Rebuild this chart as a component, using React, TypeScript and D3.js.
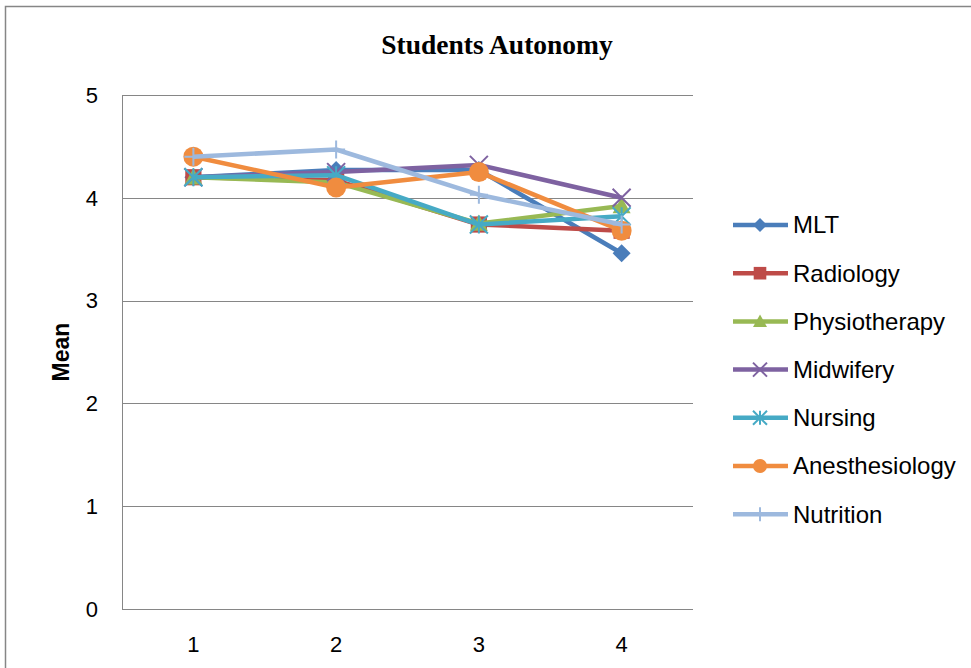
import React, { useEffect, useRef } from 'react';
import * as d3 from 'd3';

const categories = ['1', '2', '3', '4'];
const yTicks = [0, 1, 2, 3, 4, 5];

const seriesNames = ['MLT', 'Radiology', 'Physiotherapy', 'Midwifery', 'Nursing', 'Anesthesiology', 'Nutrition'];
const mltValues = [4.2, 4.27, 4.27, 3.46];
const radiologyValues = [4.2, 4.17, 3.74, 3.68];
const physiotherapyValues = [4.2, 4.15, 3.75, 3.92];
const midwiferyValues = [4.2, 4.25, 4.32, 4.0];
const nursingValues = [4.2, 4.22, 3.74, 3.82];
const anesthesiologyValues = [4.4, 4.1, 4.25, 3.68];
const nutritionValues = [4.4, 4.47, 4.03, 3.74];

const allValues = [mltValues, radiologyValues, physiotherapyValues, midwiferyValues, nursingValues, anesthesiologyValues, nutritionValues];
const colors = ['#4A7DBA', '#BE4B48', '#98B954', '#7E62A1', '#46AAC5', '#F08C3F', '#9DB9DE'];
const markers = ['diamond', 'square', 'triangle', 'x', 'star', 'circle', 'plus'];

const W = 971;
const H = 668;

function drawMarker(g: d3.Selection<SVGGElement, unknown, null, undefined>, kind: string, x: number, y: number, color: string, s: number) {
  if (kind === 'diamond') {
    g.append('path').attr('d', `M${x},${y - s}L${x + s},${y}L${x},${y + s}L${x - s},${y}Z`).attr('fill', color);
  } else if (kind === 'square') {
    g.append('rect').attr('x', x - s * 0.9).attr('y', y - s * 0.9).attr('width', s * 1.8).attr('height', s * 1.8).attr('fill', color);
  } else if (kind === 'triangle') {
    g.append('path').attr('d', `M${x},${y - s}L${x + s},${y + s * 0.8}L${x - s},${y + s * 0.8}Z`).attr('fill', color);
  } else if (kind === 'circle') {
    g.append('circle').attr('cx', x).attr('cy', y).attr('r', s).attr('fill', color);
  } else if (kind === 'x') {
    g.append('path').attr('d', `M${x - s},${y - s}L${x + s},${y + s}M${x - s},${y + s}L${x + s},${y - s}`)
      .attr('stroke', color).attr('stroke-width', 2);
  } else if (kind === 'star') {
    g.append('path').attr('d', `M${x - s},${y - s}L${x + s},${y + s}M${x - s},${y + s}L${x + s},${y - s}M${x},${y - s}L${x},${y + s}`)
      .attr('stroke', color).attr('stroke-width', 2);
  } else if (kind === 'plus') {
    g.append('path').attr('d', `M${x},${y - s}L${x},${y + s}M${x - s},${y}L${x + s},${y}`)
      .attr('stroke', color).attr('stroke-width', 2);
  }
}

export default function App() {
  const ref = useRef<SVGSVGElement>(null);

  useEffect(() => {
    if (!ref.current) return;
    const svg = d3.select(ref.current);
    svg.selectAll('*').remove();

    const plot = { left: 122, right: 693, top: 95, bottom: 609 };

    const x = d3.scalePoint<string>().domain(categories).range([plot.left, plot.right]).padding(0.5);
    const y = d3.scaleLinear().domain([0, 5]).range([plot.bottom, plot.top]);

    // outer frame
    svg.append('rect').attr('x', 5.5).attr('y', 6.5).attr('width', W + 10).attr('height', H + 10)
      .attr('fill', '#fff').attr('stroke', '#868686').attr('stroke-width', 1.5);

    // title
    svg.append('text').attr('x', 497).attr('y', 54).attr('text-anchor', 'middle')
      .style('font-family', '"Liberation Serif", "Times New Roman", serif').style('font-weight', 'bold')
      .style('font-size', '27.5px').text('Students Autonomy');

    // gridlines
    svg.append('g').selectAll('line').data(yTicks.filter(t => t > 0)).enter().append('line')
      .attr('x1', plot.left).attr('x2', plot.right)
      .attr('y1', d => Math.round(y(d)) + 0.5).attr('y2', d => Math.round(y(d)) + 0.5)
      .attr('stroke', '#868686').attr('stroke-width', 1);

    // axes
    svg.append('line').attr('x1', plot.left + 0.5).attr('x2', plot.left + 0.5).attr('y1', plot.top).attr('y2', plot.bottom)
      .attr('stroke', '#868686');
    svg.append('line').attr('x1', plot.left).attr('x2', plot.right).attr('y1', plot.bottom + 0.5).attr('y2', plot.bottom + 0.5)
      .attr('stroke', '#868686');

    const tickFont = '"Liberation Sans", Arial, sans-serif';
    svg.append('g').selectAll('text').data(yTicks).enter().append('text')
      .attr('x', 98).attr('y', d => y(d)).attr('dy', '0.35em').attr('text-anchor', 'end')
      .style('font-family', tickFont).style('font-size', '22px').text(d => String(d));

    svg.append('g').selectAll('text').data(categories).enter().append('text')
      .attr('x', d => x(d) as number).attr('y', 652).attr('text-anchor', 'middle')
      .style('font-family', tickFont).style('font-size', '22px').text(d => d);

    svg.append('text').attr('transform', `translate(69,${(plot.top + plot.bottom) / 2}) rotate(-90)`)
      .attr('text-anchor', 'middle')
      .style('font-family', tickFont).style('font-weight', 'bold').style('font-size', '23px').text('Mean');

    // series
    const line = d3.line<number>().x((_, i) => x(categories[i]) as number).y(d => y(d));
    allValues.forEach((vals, si) => {
      const g = svg.append('g');
      g.append('path').attr('d', line(vals)).attr('fill', 'none').attr('stroke', colors[si])
        .attr('stroke-width', 4.5).attr('stroke-linejoin', 'round');
      vals.forEach((v, i) => {
        const size = markers[si] === 'circle' ? 10 : 9;
        drawMarker(g, markers[si], x(categories[i]) as number, y(v), colors[si], size);
      });
    });

    // legend
    const leg = svg.append('g');
    seriesNames.forEach((name, i) => {
      const ly = 225 + i * 48.2;
      const g = leg.append('g');
      g.append('line').attr('x1', 733).attr('x2', 788).attr('y1', ly).attr('y2', ly)
        .attr('stroke', colors[i]).attr('stroke-width', 4.5);
      drawMarker(g, markers[i], 760, ly, colors[i], 7);
      g.append('text').attr('x', 793).attr('y', ly).attr('dy', '0.35em')
        .style('font-family', tickFont).style('font-size', '24px').text(name);
    });
  }, []);

  return (
    <svg ref={ref} width={W} height={H}
      style={{ position: 'absolute', left: 0, top: 0, display: 'block', background: '#fff' }} />
  );
}
